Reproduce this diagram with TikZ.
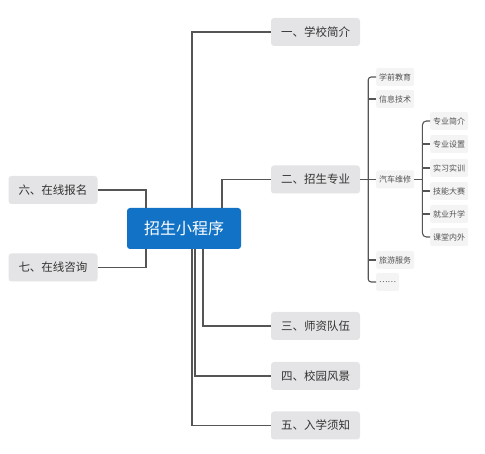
\documentclass[tikz,border=0pt]{standalone}
\usepackage{fontspec}
\newfontfamily\cjk{Noto Sans CJK SC}
\usetikzlibrary{positioning,calc}
\definecolor{rootblue}{HTML}{1273C6}
\definecolor{topicgray}{HTML}{E4E4E6}
\definecolor{leafgray}{HTML}{F4F4F5}
\definecolor{linegray}{HTML}{555555}
\definecolor{textgray}{HTML}{333333}

\begin{document}
\begin{tikzpicture}[x=1pt,y=-1pt,
  root/.style={fill=rootblue,rounded corners=3pt,minimum width=114pt,minimum height=41pt,
    text=white,font=\cjk\fontsize{16}{16}\selectfont},
  topic/.style={fill=topicgray,rounded corners=3pt,minimum width=89pt,minimum height=28pt,
    text=textgray,font=\cjk\fontsize{11.5}{12}\selectfont},
  leaf/.style={fill=leafgray,rounded corners=2pt,minimum height=18pt,inner xsep=3pt,
    anchor=west,text=textgray!85,font=\cjk\fontsize{8}{8}\selectfont},
  link/.style={draw=linegray,line width=1.1pt}]
  \useasboundingbox (0,0) rectangle (485,454);

  % centre
  \node[root] (root) at (184,228.5) {招生小程序};

  % first level
  \node[topic] (n1) at (315.5,32) {一、学校简介};
  \node[topic] (n2) at (315.5,179.5) {二、招生专业};
  \node[topic] (n3) at (315.5,326) {三、师资队伍};
  \node[topic] (n4) at (315.5,376) {四、校园风景};
  \node[topic] (n5) at (315.5,425.5) {五、入学须知};
  \node[topic] (n6) at (53,190) {六、在线报名};
  \node[topic] (n7) at (53,267.5) {七、在线咨询};

  % majors
  \node[leaf] (s1) at (376,77) {学前教育};
  \node[leaf] (s2) at (376,99) {信息技术};
  \node[leaf] (s3) at (376,179.5) {汽车维修};
  \node[leaf] (s4) at (376,260) {旅游服务};
  \node[leaf] (s5) at (376,282) {……};

  % car repair
  \node[leaf] (r1) at (430,121) {专业简介};
  \node[leaf] (r2) at (430,144) {专业设置};
  \node[leaf] (r3) at (430,168) {实习实训};
  \node[leaf] (r4) at (430,191) {技能大赛};
  \node[leaf] (r5) at (430,214) {就业升学};
  \node[leaf] (r6) at (430,237) {课堂内外};

  % junctions on the centre node
  \coordinate (j1) at ([xshift=8pt]root.north);
  \coordinate (j2) at ([xshift=38pt]root.north);
  \coordinate (j3) at ([xshift=19pt]root.south);
  \coordinate (j4) at ([xshift=11pt]root.south);
  \coordinate (j5) at ([xshift=8pt]root.south);
  \coordinate (j6) at ([xshift=-38pt]root.north);
  \coordinate (j7) at ([xshift=-38pt]root.south);
  \coordinate (bar2) at ([xshift=8pt]n2.east);
  \coordinate (bar3) at ([xshift=8pt]s3.east);

  \foreach \i in {1,...,5}
    \draw[link] (n\i.west) -| (j\i);
  \draw[link] (n6.east) -| (j6);
  \draw[link] (n7.east) -| (j7);

  \draw[link] (n2.east) -- (s3.west);
  \draw[link,rounded corners=3pt] (s1.west) -| (bar2) |- (s5.west);
  \foreach \i in {2,4}
    \draw[link] (s\i.west) -- (s\i.west -| bar2);

  \draw[link] (s3.east) -- (bar3);
  \draw[link,rounded corners=4pt] (r1.west) -| (bar3) |- (r6.west);
  \foreach \i in {2,...,5}
    \draw[link] (r\i.west) -- (r\i.west -| bar3);
\end{tikzpicture}
\end{document}
